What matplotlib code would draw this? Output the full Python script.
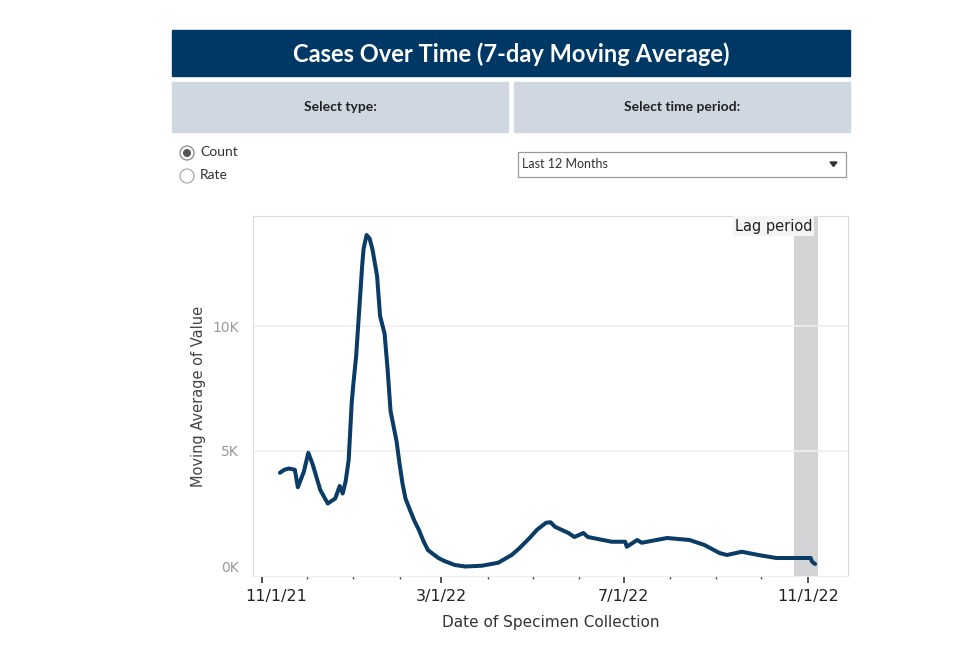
import matplotlib
matplotlib.use("Agg")
import matplotlib.pyplot as plt
import matplotlib.dates as mdates
import matplotlib.transforms as mtrans
from matplotlib.patches import Rectangle, Circle, Polygon
import pandas as pd

# 7-day moving average of cases
dates = ["2021-11-13", "2021-11-16", "2021-11-19", "2021-11-23", "2021-11-25",
         "2021-11-29", "2021-12-02", "2021-12-05", "2021-12-10", "2021-12-15",
         "2021-12-20", "2021-12-23", "2021-12-25", "2021-12-27", "2021-12-29",
         "2021-12-31", "2022-01-01", "2022-01-03", "2022-01-05", "2022-01-07",
         "2022-01-08", "2022-01-10", "2022-01-12", "2022-01-14", "2022-01-17",
         "2022-01-19", "2022-01-22", "2022-01-24", "2022-01-26", "2022-01-30",
         "2022-02-01", "2022-02-03", "2022-02-05", "2022-02-08", "2022-02-11",
         "2022-02-14", "2022-02-17", "2022-02-20", "2022-02-23", "2022-02-27",
         "2022-03-03", "2022-03-10", "2022-03-17", "2022-03-28", "2022-04-08",
         "2022-04-17", "2022-04-22", "2022-04-29", "2022-05-04", "2022-05-10",
         "2022-05-13", "2022-05-16", "2022-05-25", "2022-05-29", "2022-06-04",
         "2022-06-07", "2022-06-23", "2022-07-02", "2022-07-03", "2022-07-10",
         "2022-07-13", "2022-07-30", "2022-08-14", "2022-08-24", "2022-09-03",
         "2022-09-08", "2022-09-18", "2022-09-29", "2022-10-11", "2022-10-23",
         "2022-11-03", "2022-11-04", "2022-11-06"]
values = [4130, 4250, 4300, 4250, 3550,
          4170, 4930, 4450, 3440, 2900,
          3100, 3600, 3300, 3800, 4640,
          6900, 7600, 8800, 10600, 12400,
          13100, 13640, 13500, 13040, 12000,
          10400, 9700, 8300, 6600, 5400,
          4500, 3700, 3100, 2640, 2200,
          1840, 1400, 1040, 900, 720,
          600, 440, 380, 410, 530,
          840, 1100, 1520, 1850, 2130,
          2150, 1970, 1720, 1560, 1720,
          1560, 1370, 1370, 1170, 1440,
          1330, 1520, 1440, 1240, 920,
          840, 970, 840, 720, 720,
          720, 570, 480]

title = "Cases Over Time (7-day Moving Average)"
major_ticks = ["2021-11-01", "2022-03-01", "2022-07-01", "2022-11-01"]
y_ticks = [0, 5000, 10000]
y_labels = ["0K", "5K", "10K"]
lag_start, lag_end = "2022-10-23", "2022-11-08"

navy = "#0b3c66"
panel = "#cfd8e1"

W, H = 980, 654
fig = plt.figure(figsize=(W / 100, H / 100), dpi=100)

# overlay in pixel units for the dashboard header
ov = fig.add_axes([0, 0, 1, 1])
ov.set_xlim(0, W)
ov.set_ylim(H, 0)
ov.axis("off")

ov.add_patch(Rectangle((172, 30), 678, 46, color="#003865"))
ov.text(511, 54, title, color="white", fontsize=17, fontweight="bold",
        family="Lato", ha="center", va="center")
ov.add_patch(Rectangle((172, 82), 336, 50, color=panel))
ov.add_patch(Rectangle((514, 82), 336, 50, color=panel))
ov.text(340, 107, "Select type:", fontsize=10, fontweight="bold",
        family="Lato", ha="center", va="center", color="#222222")
ov.text(682, 107, "Select time period:", fontsize=10, fontweight="bold",
        family="Lato", ha="center", va="center", color="#222222")

# radio buttons
ov.add_patch(Circle((187, 153), 7, fill=False, ec="#888888", lw=0.9))
ov.add_patch(Circle((187, 153), 3.3, color="#555555"))
ov.add_patch(Circle((187, 176), 7, fill=False, ec="#aaaaaa", lw=0.9))
ov.text(200, 152, "Count", fontsize=10, family="Lato", va="center", color="#333333")
ov.text(200, 175, "Rate", fontsize=10, family="Lato", va="center", color="#333333")

# dropdown
ov.add_patch(Rectangle((518, 152), 328, 25, fill=False, ec="#999999", lw=0.9))
ov.text(522, 164.5, "Last 12 Months", fontsize=9, family="Lato", va="center",
        color="#333333")
ov.add_patch(Polygon([(830, 162), (837, 162), (833.5, 166.5)], color="#333333"))

# main chart
ax = fig.add_axes([253 / W, (H - 576) / H, 595 / W, 360 / H])
d = pd.to_datetime(dates)
ax.axvspan(pd.Timestamp(lag_start), pd.Timestamp(lag_end), color="#d4d4d6",
           lw=0, zorder=0)
ax.plot(d, values, color=navy, lw=2.9, solid_capstyle="round",
        solid_joinstyle="round", zorder=3)

ax.set_xlim(pd.Timestamp("2021-10-26"), pd.Timestamp("2022-11-28"))
ax.set_ylim(0, 14400)

ax.set_yticks(y_ticks)
ax.set_yticklabels(y_labels)
ax.tick_params(axis="y", length=0, labelsize=10, labelcolor="#999999", pad=10)
lab0 = ax.get_yticklabels()[0]
lab0.set_transform(lab0.get_transform() +
                   mtrans.ScaledTranslation(0, 10 / 100, fig.dpi_scale_trans))
for y in y_ticks[1:]:
    ax.axhline(y, color="#efefef", lw=1.2, zorder=1)

ax.set_xticks(pd.to_datetime(major_ticks))
ax.xaxis.set_major_formatter(mdates.DateFormatter("%-m/%-d/%y"))
ax.xaxis.set_minor_locator(mdates.MonthLocator())
ax.tick_params(axis="x", which="major", length=5, width=1.2, color="#333333",
               labelsize=11.5, labelcolor="#222222", pad=4)
ax.tick_params(axis="x", which="minor", length=2.5, width=1, color="#555555")
xl0 = ax.get_xticklabels()[0]
xl0.set_transform(xl0.get_transform() +
                  mtrans.ScaledTranslation(14 / 100, 0, fig.dpi_scale_trans))

ax.set_xlabel("Date of Specimen Collection", fontsize=11, color="#333333",
              labelpad=8)
ax.set_ylabel("Moving Average of Value", fontsize=10.5, color="#444444",
              labelpad=5)

for s in ["top", "left", "right"]:
    ax.spines[s].set_color("#dcdcdc")
ax.spines["bottom"].set_color("#eeeeee")

ax.text(0.94, 0.993, "Lag period", transform=ax.transAxes, ha="right",
        va="top", fontsize=10.5, color="#222222", zorder=4,
        bbox=dict(boxstyle="square,pad=0.15", fc="#f4f4f4", ec="none"))

fig.savefig("out.png", dpi=100)
